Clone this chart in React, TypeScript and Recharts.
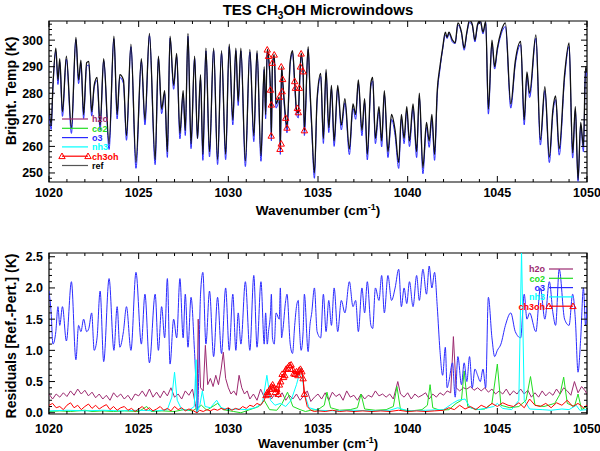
import { LineChart, Line, XAxis, YAxis, ReferenceArea } from 'recharts'

const FONT = '"Liberation Sans", Arial, Helvetica, sans-serif'

// wavenumber grid (cm-1) of the reference spectrum
const wnGrid = [
  1020.0, 1020.12, 1020.22, 1020.38, 1020.5, 1020.6, 1020.75, 1020.97, 1021.25, 1021.5, 1021.65, 1021.78, 1021.93, 1022.1,
  1022.22, 1022.38, 1022.52, 1022.68, 1022.85, 1023.05, 1023.35, 1023.62, 1023.8, 1023.95, 1024.15, 1024.32, 1024.57, 1024.85,
  1025.15, 1025.35, 1025.6, 1025.92, 1026.1, 1026.28, 1026.45, 1026.6, 1026.75, 1026.95, 1027.12, 1027.3, 1027.48,
  1027.6, 1027.75, 1027.92, 1028.12, 1028.28, 1028.45, 1028.58, 1028.75, 1028.95, 1029.18, 1029.4, 1029.62, 1029.85,
  1030.05, 1030.25, 1030.42, 1030.55, 1030.7, 1030.95, 1031.2, 1031.42, 1031.6, 1031.82, 1032.0, 1032.08, 1032.17,
  1032.24, 1032.35, 1032.4, 1032.46, 1032.56, 1032.66, 1032.84, 1032.9, 1032.97, 1033.03, 1033.2, 1033.27, 1033.45,
  1033.58, 1033.7, 1033.8, 1033.9, 1033.96, 1034.06, 1034.17, 1034.24, 1034.45, 1034.55, 1034.65, 1034.8, 1034.95,
  1035.15, 1035.3, 1035.45, 1035.6, 1035.75, 1035.9, 1036.1, 1036.3, 1036.5, 1036.75, 1036.95, 1037.1, 1037.25, 1037.45,
  1037.6, 1037.75, 1037.95, 1038.05, 1038.2, 1038.4, 1038.55, 1038.7, 1038.9, 1039.1, 1039.3, 1039.5, 1039.65, 1039.8, 1039.95,
  1040.1, 1040.3, 1040.5, 1040.65, 1040.85, 1041.05, 1041.2, 1041.35, 1041.5, 1041.65, 1041.8, 1041.95, 1042.1, 1042.2,
  1042.3, 1042.5, 1042.65, 1042.8, 1043.0, 1043.15, 1043.3, 1043.45, 1043.6, 1043.75, 1043.9, 1044.05, 1044.2, 1044.35,
  1044.5, 1044.7, 1044.85, 1045.0,
  1045.2, 1045.45, 1045.75, 1046.0, 1046.3, 1046.5, 1046.65, 1046.8, 1047.15, 1047.4, 1047.65, 1047.9, 1048.1, 1048.25,
  1048.45, 1048.75, 1049.0, 1049.2, 1049.35, 1049.5, 1049.65, 1049.8, 1049.92, 1050.0,
]

// reference brightness temperature (K) on wnGrid
const refBT = [
  276, 268, 283, 297, 285, 293, 273, 294, 267, 301, 285, 292.5, 272, 291.5,
  292, 273, 283, 286, 268, 293, 261, 301.5, 272, 287, 285, 264, 298.5, 254,
  293, 270, 302.5, 255, 294, 274, 281, 258, 301.5, 283, 295, 265, 281,
  266, 302.5, 261, 294, 263, 287, 257, 297, 258, 297, 255, 296, 257,
  298.5, 270, 297, 277, 297, 254.5, 296.5, 264, 296, 256.5, 290, 272, 296.5,
  294, 281, 264, 291, 294.5, 276, 278.5, 259, 290, 285, 270.5, 267, 292,
  296, 284.5, 274, 272.5, 282, 295, 288, 266, 297.5, 282, 268, 250, 278,
  287.5, 263, 289, 267, 283, 262, 283, 268, 278, 259, 276, 272, 285, 266,
  278, 257, 284, 286, 263, 275, 262, 281, 258, 272, 266, 254, 272, 263, 275,
  262, 276, 258, 280, 252, 269, 262, 272, 257, 281, 290, 297, 303, 301,
  303, 300, 299, 306.5, 303, 297, 303, 307.5, 306, 300, 306, 307.5, 303, 307,
  274, 300, 290, 297,
  303, 306.5, 276, 292, 299.5, 270, 288, 280, 302, 262.5, 282.5, 256, 274, 279,
  259, 287, 299, 257.5, 275, 247.5, 269, 260, 290, 288,
]

// o3 residual (K) on wnGrid
const o3Res = [
  1.95, 1.6, 1.1, 1.3, 1.7, 1.4, 1.7, 1.15, 2.1, 0.85, 1.4, 1.3, 1.5, 1.3,
  1.35, 1.6, 1.0, 1.2, 1.95, 0.82, 2.15, 1.0, 1.7, 1.05, 1.3, 1.7, 1.0, 2.25,
  1.1, 1.9, 0.8, 1.9, 1.0, 1.7, 1.2, 2.15, 0.78, 1.5, 1.2, 2.15, 1.2,
  1.9, 1.05, 1.85, 0.95, 0.05, 1.9, 2.25, 1.1, 1.95, 0.9, 1.85, 0.95, 2.0,
  1.0, 1.9, 1.0, 1.6, 1.1, 2.1, 1.0, 2.2, 1.05, 2.1, 1.1, 1.6, 1.1,
  1.3, 1.6, 1.9, 1.2, 1.1, 1.6, 1.5, 2.0, 1.2, 1.3, 1.8, 1.9, 1.1,
  0.95, 1.4, 1.7, 1.8, 1.4, 1.0, 1.3, 1.9, 0.98, 1.4, 1.6, 2.0, 1.3,
  1.2, 1.9, 1.3, 1.8, 1.4, 2.0, 1.3, 1.8, 1.6, 2.1, 1.7, 1.8, 1.3, 2.0,
  1.6, 2.1, 1.4, 1.35, 2.0, 1.8, 2.2, 1.6, 2.2, 1.8, 2.0, 2.3, 1.7, 2.0, 1.75,
  2.1, 1.7, 2.2, 1.8, 2.3, 1.9, 2.35, 2.0, 2.25, 1.7, 1.0, 0.6, 1.05, 0.4,
  0.5, 0.8, 0.25, 0.9, 0.45, 0.8, 0.5, 0.9, 0.4, 0.7, 0.6, 0.5, 0.7, 0.4,
  1.85, 1.2, 0.9, 1.0,
  1.1, 1.4, 1.6, 1.3, 1.2, 1.9, 1.5, 1.6, 1.3, 2.0, 1.5, 2.1, 1.6, 1.4,
  2.3, 1.5, 1.4, 1.9, 1.5, 0.65, 1.2, 2.0, 1.4, 1.7,
]

// [wavenumber, residual K]
const h2oRes: [number, number][] = [
  [1020.0, 0.3], [1020.2, 0.22], [1020.4, 0.3], [1020.6, 0.25], [1020.8, 0.32], [1021.0, 0.26], [1021.2, 0.35],
  [1021.4, 0.28], [1021.6, 0.38], [1021.8, 0.3], [1022.0, 0.36], [1022.2, 0.27], [1022.4, 0.33], [1022.6, 0.24],
  [1022.8, 0.3], [1023.0, 0.22], [1023.2, 0.28], [1023.4, 0.2], [1023.6, 0.32], [1023.8, 0.25], [1024.0, 0.3],
  [1024.2, 0.22], [1024.4, 0.28], [1024.6, 0.2], [1024.8, 0.3], [1025.0, 0.27], [1025.2, 0.35], [1025.4, 0.26],
  [1025.6, 0.38], [1025.8, 0.25], [1026.0, 0.33], [1026.2, 0.24], [1026.4, 0.35], [1026.6, 0.27], [1026.8, 0.4],
  [1027.0, 0.25], [1027.2, 0.3], [1027.4, 0.22], [1027.6, 0.35], [1027.8, 0.28], [1028.0, 0.38], [1028.15, 0.15],
  [1028.25, 0.0], [1028.32, 1.5], [1028.45, 0.4], [1028.6, 0.35], [1028.72, 1.08], [1028.85, 0.45], [1029.0, 0.55],
  [1029.15, 0.42], [1029.3, 0.6], [1029.45, 0.45], [1029.6, 0.7], [1029.72, 0.97], [1029.85, 0.55], [1030.0, 0.4],
  [1030.15, 0.3], [1030.3, 0.35], [1030.45, 0.28], [1030.6, 0.6], [1030.75, 0.4], [1030.9, 0.3], [1031.05, 0.35],
  [1031.2, 0.22], [1031.4, 0.3], [1031.6, 0.2], [1031.8, 0.38], [1032.0, 0.25], [1032.2, 0.35], [1032.4, 0.22],
  [1032.6, 0.3], [1032.8, 0.24], [1033.0, 0.32], [1033.2, 0.2], [1033.4, 0.28], [1033.6, 0.22], [1033.8, 0.3],
  [1034.0, 0.2], [1034.2, 0.27], [1034.4, 0.35], [1034.6, 0.18], [1034.8, 0.25], [1035.0, 0.3], [1035.2, 0.22],
  [1035.4, 0.32], [1035.6, 0.2], [1035.8, 0.33], [1036.0, 0.26], [1036.2, 0.3], [1036.4, 0.2], [1036.6, 0.35],
  [1036.8, 0.25], [1037.0, 0.28], [1037.2, 0.2], [1037.4, 0.3], [1037.6, 0.22], [1037.8, 0.28], [1038.0, 0.25],
  [1038.2, 0.35], [1038.4, 0.27], [1038.6, 0.3], [1038.8, 0.25], [1039.0, 0.3], [1039.2, 0.22], [1039.45, 0.5],
  [1039.6, 0.3], [1039.8, 0.25], [1040.0, 0.32], [1040.2, 0.22], [1040.4, 0.3], [1040.6, 0.25], [1040.8, 0.28],
  [1041.0, 0.32], [1041.2, 0.22], [1041.4, 0.3], [1041.6, 0.25], [1041.8, 0.32], [1042.0, 0.28], [1042.2, 0.35],
  [1042.4, 0.32], [1042.55, 1.22], [1042.7, 0.4], [1042.9, 0.35], [1043.1, 0.4], [1043.3, 0.38], [1043.5, 0.42],
  [1043.7, 0.36], [1043.9, 0.4], [1044.1, 0.35], [1044.3, 0.4], [1044.5, 0.33], [1044.7, 0.38], [1044.9, 0.3],
  [1045.1, 0.35], [1045.3, 0.3], [1045.5, 0.38], [1045.7, 0.28], [1045.9, 0.35], [1046.1, 0.3], [1046.3, 0.38],
  [1046.5, 0.3], [1046.7, 0.36], [1046.9, 0.25], [1047.1, 0.32], [1047.3, 0.25], [1047.5, 0.35], [1047.7, 0.27],
  [1047.9, 0.33], [1048.1, 0.28], [1048.3, 0.38], [1048.5, 0.3], [1048.7, 0.4], [1048.9, 0.35], [1049.1, 0.28],
  [1049.3, 0.5], [1049.5, 0.32], [1049.7, 0.42], [1049.9, 0.35], [1050.0, 0.3],
]

const co2Res: [number, number][] = [
  [1020.0, 0.02], [1020.6, 0.03], [1021.2, 0.02], [1022.0, 0.04], [1022.4, 0.02], [1023.0, 0.03], [1023.6, 0.02],
  [1024.2, 0.03], [1025.0, 0.02], [1025.45, 0.1], [1025.7, 0.02], [1026.3, 0.03], [1027.0, 0.02], [1027.5, 0.05],
  [1028.0, 0.03], [1028.5, 0.12], [1028.8, 0.04], [1029.4, 0.15], [1029.7, 0.05], [1030.3, 0.02], [1030.7, 0.0],
  [1031.2, 0.05], [1031.7, 0.1], [1032.0, 0.2], [1032.3, 0.05], [1032.7, 0.04], [1033.0, 0.15], [1033.3, 0.33],
  [1033.6, 0.1], [1034.0, 0.05], [1034.3, 0.02], [1034.6, 0.04], [1035.0, 0.05], [1035.35, 0.12], [1035.5, 0.33],
  [1035.7, 0.08], [1036.2, 0.04], [1036.8, 0.05], [1037.2, 0.08], [1037.4, 0.3], [1037.6, 0.06], [1038.2, 0.04],
  [1038.8, 0.05], [1039.2, 0.1], [1039.4, 0.42], [1039.6, 0.05], [1040.2, 0.03], [1040.8, 0.05], [1041.1, 0.12],
  [1041.25, 0.45], [1041.4, 0.08], [1041.8, 0.04], [1042.3, 0.05], [1042.7, 0.15], [1043.0, 0.2], [1043.15, 0.67],
  [1043.35, 0.1], [1043.8, 0.05], [1044.3, 0.06], [1044.7, 0.15], [1045.0, 0.78], [1045.2, 0.12], [1045.7, 0.08],
  [1046.2, 0.1], [1046.6, 0.2], [1046.85, 0.58], [1047.1, 0.12], [1047.6, 0.1], [1048.2, 0.15], [1048.5, 0.3],
  [1048.7, 0.57], [1048.9, 0.15], [1049.3, 0.1], [1049.5, 0.3], [1049.7, 0.05], [1050.0, 0.1],
]

const nh3Res: [number, number][] = [
  [1020.0, 0.03], [1021.0, 0.04], [1022.0, 0.03], [1023.0, 0.04], [1024.0, 0.03], [1025.0, 0.04], [1026.0, 0.03],
  [1026.6, 0.05], [1026.85, 0.25], [1027.0, 0.65], [1027.15, 0.2], [1027.4, 0.05], [1027.8, 0.04], [1028.1, 0.1],
  [1028.2, 0.85], [1028.25, 0.0], [1028.4, 0.1], [1028.55, 0.35], [1028.7, 0.1], [1029.0, 0.08], [1029.35, 0.2],
  [1029.6, 0.08], [1030.0, 0.05], [1030.5, 0.06], [1031.0, 0.05], [1031.5, 0.08], [1031.9, 0.15], [1032.15, 0.6],
  [1032.35, 0.2], [1032.6, 0.12], [1032.9, 0.15], [1033.2, 0.1], [1033.5, 0.2], [1033.8, 0.45], [1034.05, 0.72],
  [1034.25, 0.3], [1034.5, 0.08], [1035.0, 0.04], [1036.0, 0.03], [1037.0, 0.04], [1038.0, 0.03], [1039.0, 0.04],
  [1039.45, 0.08], [1040.0, 0.03], [1041.0, 0.04], [1042.0, 0.05], [1042.5, 0.15], [1042.8, 0.2], [1043.2, 0.22],
  [1043.5, 0.08], [1044.0, 0.05], [1044.8, 0.1], [1045.0, 0.15], [1045.3, 0.07], [1045.8, 0.05], [1046.2, 0.2],
  [1046.35, 2.6], [1046.5, 0.2], [1046.8, 0.06], [1047.5, 0.05], [1048.0, 0.04], [1048.6, 0.06], [1049.0, 0.05],
  [1049.4, 0.12], [1049.6, 0.04], [1050.0, 0.05],
]

const ch3ohResBefore: [number, number][] = [
  [1020.0, 0.12], [1020.2, 0.15], [1020.4, 0.08], [1020.6, 0.1], [1020.8, 0.05], [1021.0, 0.12], [1021.2, 0.16],
  [1021.4, 0.08], [1021.6, 0.12], [1021.8, 0.05], [1022.0, 0.1], [1022.2, 0.14], [1022.4, 0.07], [1022.6, 0.12],
  [1022.8, 0.06], [1023.0, 0.1], [1023.2, 0.13], [1023.4, 0.05], [1023.6, 0.1], [1023.8, 0.04], [1024.0, 0.08],
  [1024.2, 0.1], [1024.4, 0.04], [1024.6, 0.07], [1024.8, 0.02], [1025.0, 0.06], [1025.2, 0.1], [1025.4, 0.04],
  [1025.6, 0.08], [1025.8, 0.03], [1026.0, 0.06], [1026.2, 0.1], [1026.4, 0.04], [1026.6, 0.07], [1026.8, 0.03],
  [1027.0, 0.1], [1027.2, 0.05], [1027.4, 0.08], [1027.6, 0.03], [1027.8, 0.06], [1028.0, 0.04], [1028.25, 0.0],
  [1028.4, 0.04], [1028.6, 0.02], [1028.8, 0.05], [1029.0, 0.03], [1029.2, 0.06], [1029.4, 0.04], [1029.6, 0.07],
  [1029.8, 0.05], [1030.0, 0.08], [1030.2, 0.04], [1030.4, 0.07], [1030.6, 0.05], [1030.8, 0.1], [1031.0, 0.07],
  [1031.2, 0.12], [1031.4, 0.1], [1031.6, 0.15], [1031.8, 0.12], [1032.0, 0.2],
]

// ch3oh microwindow points (marked with triangles)
const ch3ohResWindow: [number, number][] = [
  [1032.1, 0.28], [1032.18, 0.33], [1032.25, 0.3], [1032.32, 0.38], [1032.4, 0.42], [1032.47, 0.45], [1032.55, 0.4],
  [1032.62, 0.33], [1032.7, 0.38], [1032.78, 0.3], [1032.85, 0.45], [1032.92, 0.5], [1033.0, 0.62], [1033.08, 0.57],
  [1033.15, 0.6], [1033.22, 0.7], [1033.3, 0.72], [1033.4, 0.76], [1033.5, 0.77], [1033.58, 0.7], [1033.65, 0.63],
  [1033.72, 0.62], [1033.8, 0.66], [1033.88, 0.6], [1033.95, 0.68], [1034.02, 0.7], [1034.1, 0.66], [1034.17, 0.55],
  [1034.24, 0.3],
]

const ch3ohResAfter: [number, number][] = [
  [1034.4, 0.1], [1034.6, 0.04], [1034.8, 0.02], [1035.0, 0.03], [1035.4, 0.02], [1035.8, 0.04], [1036.2, 0.02],
  [1036.6, 0.03], [1037.0, 0.02], [1037.5, 0.03], [1038.0, 0.02], [1038.5, 0.03], [1039.0, 0.02], [1039.5, 0.04],
  [1040.0, 0.02], [1040.5, 0.03], [1041.0, 0.02], [1041.5, 0.03], [1042.0, 0.04], [1042.3, 0.08], [1042.6, 0.05],
  [1042.9, 0.12], [1043.2, 0.06], [1043.5, 0.1], [1043.8, 0.05], [1044.1, 0.12], [1044.4, 0.08], [1044.7, 0.15],
  [1045.0, 0.1], [1045.3, 0.16], [1045.6, 0.12], [1045.9, 0.1], [1046.2, 0.16], [1046.5, 0.08], [1046.8, 0.22],
  [1047.1, 0.12], [1047.4, 0.1], [1047.7, 0.15], [1048.0, 0.08], [1048.3, 0.16], [1048.6, 0.12], [1048.9, 0.2],
  [1049.2, 0.1], [1049.5, 0.15], [1049.8, 0.08], [1050.0, 0.12],
]

// ch3oh perturbed brightness temp in the microwindow [wavenumber, K]
const ch3ohTopWindow: [number, number][] = [
  [1032.17, 296.4], [1032.24, 294], [1032.35, 281.3], [1032.39, 264], [1032.4, 275.7], [1032.45, 291.4],
  [1032.56, 294.5], [1032.84, 278.6], [1032.88, 259], [1032.95, 261], [1032.95, 290], [1033.0, 280.7],
  [1033.03, 285.3], [1033.2, 270.7], [1033.27, 267], [1033.7, 284.5], [1033.74, 282], [1033.85, 274.4],
  [1033.9, 272.8], [1033.96, 282], [1034.02, 290], [1034.06, 294.9], [1034.17, 288.2], [1034.24, 266],
]

const xMajor = [1020, 1025, 1030, 1035, 1040, 1045, 1050]
const topYMajor = [250, 260, 270, 280, 290, 300]
const botYMajor = ['0.0', '0.5', '1.0', '1.5', '2.0', '2.5']

const colors = {
  h2o: '#9c2a70',
  co2: '#22dd22',
  o3: '#2a2aff',
  nh3: '#00ffff',
  ch3oh: '#ff0000',
  ref: '#111111',
}

const legendRows = [
  { name: 'h2o', color: colors.h2o },
  { name: 'co2', color: colors.co2 },
  { name: 'o3', color: colors.o3 },
  { name: 'nh3', color: colors.nh3 },
  { name: 'ch3oh', color: colors.ch3oh },
]

// plot boxes in each chart's own pixels
const TOP = { left: 49, right: 587, top: 21, bottom: 182, h: 228, yMin: 246.6, yMax: 307.2 }
const BOT = { left: 49, right: 587, top: 25, bottom: 186, h: 223, yMin: -0.02, yMax: 2.56 }
const MID_X = (TOP.left + TOP.right) / 2

const xTicks = Array.from({ length: 31 }, (_, i) => 1020 + i)
const topYTicks = Array.from({ length: 30 }, (_, i) => 248 + i * 2)
const botYTicks = Array.from({ length: 26 }, (_, i) => i / 10)

const toPts = (arr: [number, number][]) => arr.map(([wn, v]) => ({ wn, v }))

const refData = wnGrid.map((wn, i) => ({ wn, v: refBT[i] }))
const o3TopData = wnGrid.map((wn, i) => ({ wn, v: refBT[i] - o3Res[i] }))
const o3ResData = wnGrid.map((wn, i) => ({ wn, v: o3Res[i] }))
const ch3ohFull = toPts([...ch3ohResBefore, ...ch3ohResWindow, ...ch3ohResAfter])

function triPath(cx: number, cy: number) {
  return `M${cx},${cy - 3.2}L${cx + 3.2},${cy + 2.4}L${cx - 3.2},${cy + 2.4}Z`
}

const TriDot = (props: any) => {
  const { cx, cy, index } = props
  if (cx == null || cy == null) return <g key={`t${index}`} />
  return <path key={`t${index}`} d={triPath(cx, cy)} fill='none' stroke={colors.ch3oh} strokeWidth={1} />
}

function makeXTick(box: typeof TOP, labelY: number) {
  return (props: any) => {
    const { x, payload } = props
    const major = xMajor.includes(payload.value)
    const len = major ? 6 : 3
    return (
      <g>
        <line x1={x} x2={x} y1={box.bottom} y2={box.bottom - len} stroke='#000' />
        <line x1={x} x2={x} y1={box.top} y2={box.top + len} stroke='#000' />
        {major && (
          <text x={x} y={labelY} textAnchor='middle' fontSize={12.5} fontWeight='bold' fontFamily={FONT} fill='#000'>
            {payload.value}
          </text>
        )}
      </g>
    )
  }
}

function makeYTick(box: typeof TOP, isMajor: (v: number) => boolean, fmt: (v: number) => string) {
  return (props: any) => {
    const { y, payload } = props
    const major = isMajor(payload.value)
    const len = major ? 6 : 3
    return (
      <g>
        <line x1={box.left} x2={box.left + len} y1={y} y2={y} stroke='#000' />
        <line x1={box.right} x2={box.right - len} y1={y} y2={y} stroke='#000' />
        {major && (
          <text x={box.left - 6} y={y + 4.5} textAnchor='end' fontSize={12.5} fontWeight='bold' fontFamily={FONT} fill='#000'>
            {fmt(payload.value)}
          </text>
        )}
      </g>
    )
  }
}

function TopPanel() {
  return (
    <LineChart
      width={600}
      height={TOP.h}
      margin={{ top: TOP.top, right: 600 - TOP.right, bottom: TOP.h - TOP.bottom - 1, left: TOP.left - 1 }}
    >
      <XAxis
        type='number'
        dataKey='wn'
        domain={[1020, 1050]}
        ticks={xTicks}
        interval={0}
        height={1}
        axisLine={false}
        tickLine={false}
        allowDataOverflow
        tick={makeXTick(TOP, 197)}
      />
      <YAxis
        type='number'
        dataKey='v'
        domain={[TOP.yMin, TOP.yMax]}
        ticks={topYTicks}
        interval={0}
        width={1}
        axisLine={false}
        tickLine={false}
        allowDataOverflow
        tick={makeYTick(TOP, (v) => topYMajor.includes(v), (v) => String(v))}
      />
      <ReferenceArea x1={1020} x2={1050} y1={TOP.yMin} y2={TOP.yMax} fill='none' stroke='#000' strokeWidth={1.2} />
      <Line data={o3TopData} dataKey='v' type='monotone' stroke={colors.o3} strokeWidth={1} dot={false} isAnimationActive={false} />
      <Line data={refData} dataKey='v' type='monotone' stroke={colors.ref} strokeWidth={1.3} dot={false} isAnimationActive={false} />
      <Line
        data={toPts(ch3ohTopWindow)}
        dataKey='v'
        stroke='none'
        dot={TriDot}
        activeDot={false}
        isAnimationActive={false}
      />
    </LineChart>
  )
}

function BottomPanel() {
  return (
    <LineChart
      width={600}
      height={BOT.h}
      margin={{ top: BOT.top, right: 600 - BOT.right, bottom: BOT.h - BOT.bottom - 1, left: BOT.left - 1 }}
    >
      <XAxis
        type='number'
        dataKey='wn'
        domain={[1020, 1050]}
        ticks={xTicks}
        interval={0}
        height={1}
        axisLine={false}
        tickLine={false}
        allowDataOverflow
        tick={makeXTick(BOT, 205)}
      />
      <YAxis
        type='number'
        dataKey='v'
        domain={[BOT.yMin, BOT.yMax]}
        ticks={botYTicks}
        interval={0}
        width={1}
        axisLine={false}
        tickLine={false}
        allowDataOverflow
        tick={makeYTick(BOT, (v) => botYMajor.includes(v.toFixed(1)), (v) => v.toFixed(1))}
      />
      <ReferenceArea x1={1020} x2={1050} y1={BOT.yMin} y2={BOT.yMax} fill='none' stroke='#000' strokeWidth={1.2} />
      <Line data={toPts(h2oRes)} dataKey='v' stroke={colors.h2o} strokeWidth={1} dot={false} isAnimationActive={false} />
      <Line data={toPts(co2Res)} dataKey='v' stroke={colors.co2} strokeWidth={1} dot={false} isAnimationActive={false} />
      <Line data={o3ResData} dataKey='v' type='monotone' stroke={colors.o3} strokeWidth={1} dot={false} isAnimationActive={false} />
      <Line data={toPts(nh3Res)} dataKey='v' stroke={colors.nh3} strokeWidth={1} dot={false} isAnimationActive={false} />
      <Line data={ch3ohFull} dataKey='v' stroke={colors.ch3oh} strokeWidth={1} dot={false} isAnimationActive={false} />
      <Line
        data={toPts(ch3ohResWindow)}
        dataKey='v'
        stroke={colors.ch3oh}
        strokeWidth={1}
        dot={TriDot}
        activeDot={false}
        isAnimationActive={false}
      />
    </LineChart>
  )
}

function Overlay() {
  const txt = { fontFamily: FONT, fontWeight: 'bold' as const }
  return (
    <svg width={600} height={451} style={{ position: 'absolute', left: 0, top: 0, pointerEvents: 'none' }}>
      <text x={MID_X} y={15} textAnchor='middle' fontSize={15} {...txt}>
        TES CH<tspan fontSize={10} dy={4}>3</tspan>
        <tspan dy={-4}>OH Microwindows</tspan>
      </text>
      <text x={MID_X} y={215} textAnchor='middle' fontSize={13.5} {...txt}>
        Wavenumber (cm<tspan fontSize={9} dy={-5}>-1</tspan>
        <tspan dy={5}>)</tspan>
      </text>
      <text x={MID_X} y={447.5} textAnchor='middle' fontSize={13} {...txt}>
        Wavenumber (cm<tspan fontSize={9} dy={-5}>-1</tspan>
        <tspan dy={5}>)</tspan>
      </text>
      <text x={16} y={91} textAnchor='middle' fontSize={14} transform='rotate(-90 16 91)' {...txt}>
        Bright. Temp (K)
      </text>
      <text x={16} y={336} textAnchor='middle' fontSize={14} transform='rotate(-90 16 336)' {...txt}>
        Residuals [Ref.-Pert.] (K)
      </text>

      {/* top legend */}
      {[...legendRows, { name: 'ref', color: '#000' }].map((r, i) => {
        const y = 119 + i * 9.3
        return (
          <g key={`tl${r.name}`}>
            <line x1={62} x2={88} y1={y} y2={y} stroke={r.name === 'ref' ? '#555' : r.color} strokeWidth={1.2} />
            {r.name === 'ch3oh' && (
              <>
                <path d={triPath(62, y)} fill='none' stroke={r.color} />
                <path d={triPath(88, y)} fill='none' stroke={r.color} />
              </>
            )}
            <text x={92} y={y + 3.3} fontSize={9} fill={r.color} {...txt}>
              {r.name}
            </text>
          </g>
        )
      })}

      {/* bottom legend */}
      {legendRows.map((r, i) => {
        const y = 269 + i * 9.3
        return (
          <g key={`bl${r.name}`}>
            <line x1={549} x2={573} y1={y} y2={y} stroke={r.color} strokeWidth={1.2} />
            {r.name === 'ch3oh' && (
              <>
                <path d={triPath(549, y)} fill='none' stroke={r.color} />
                <path d={triPath(573, y)} fill='none' stroke={r.color} />
              </>
            )}
            <text x={545} y={y + 3.3} textAnchor='end' fontSize={9} fill={r.color} {...txt}>
              {r.name}
            </text>
          </g>
        )
      })}
    </svg>
  )
}

export default function App() {
  return (
    <div style={{ position: 'absolute', left: 0, top: 0, width: 600, height: 451, background: '#fff' }}>
      <div style={{ position: 'absolute', left: 0, top: 0 }}>
        <TopPanel />
      </div>
      <div style={{ position: 'absolute', left: 0, top: TOP.h }}>
        <BottomPanel />
      </div>
      <Overlay />
    </div>
  )
}
